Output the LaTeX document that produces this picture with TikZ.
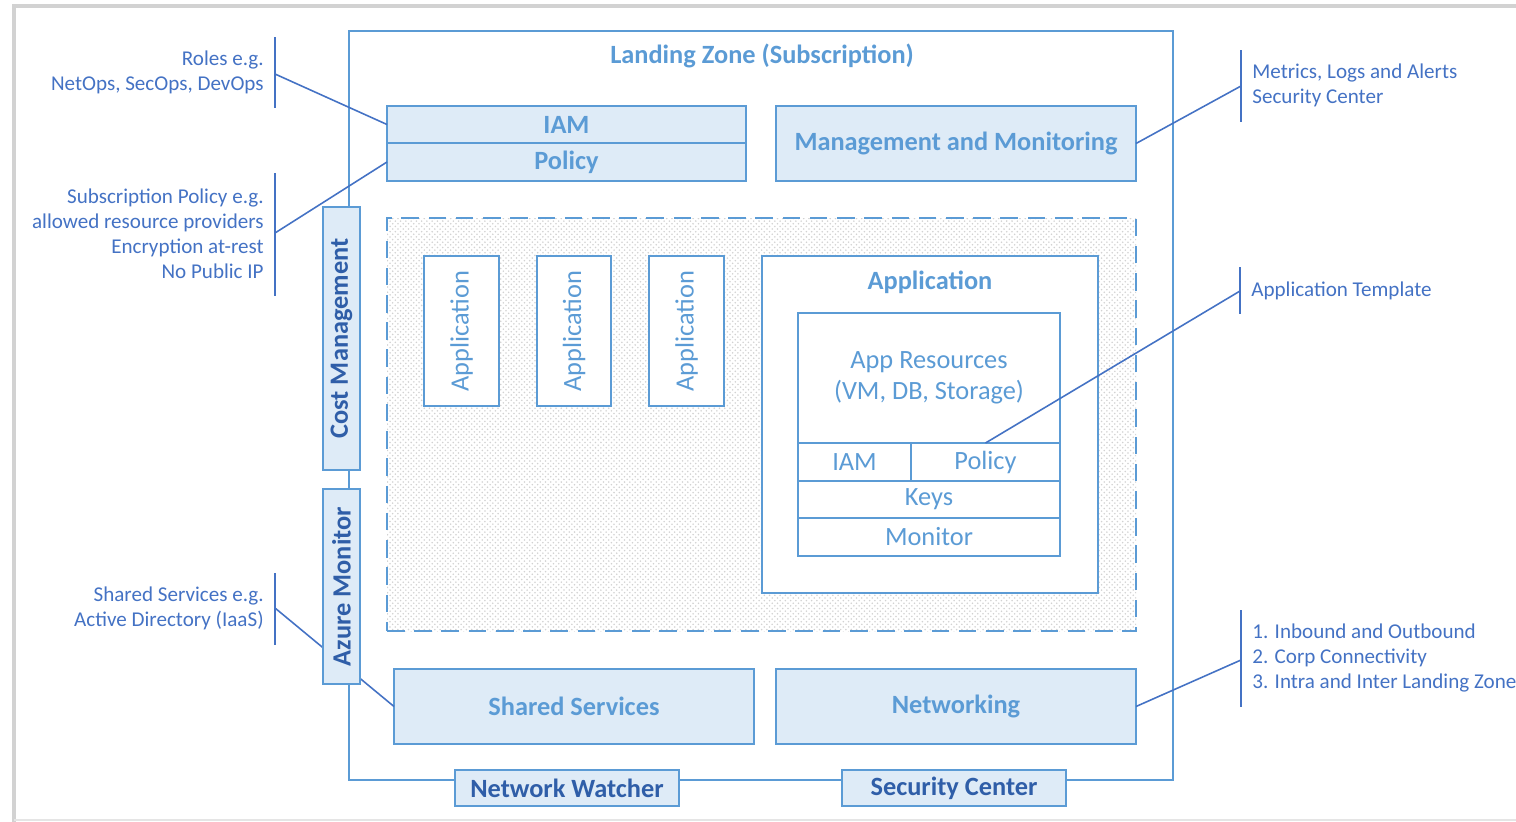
\documentclass[tikz,border=0pt]{standalone}
\usepackage{fontspec}
\setmainfont{Carlito}
\usepackage{xcolor}
\usepackage{tikz}
\usetikzlibrary{positioning,calc,patterns}

\definecolor{lzline}{RGB}{91,155,213}
\definecolor{lzfill}{RGB}{222,235,247}
\definecolor{lznote}{RGB}{68,114,196}
\definecolor{lzdark}{RGB}{47,94,168}

\begin{document}
\begin{tikzpicture}[x=0.02cm, y=-0.02cm,
    sz/.style 2 args={minimum width=#1*0.02cm, minimum height=#2*0.02cm},
    box/.style={draw=lzline, line width=1pt, inner sep=0pt, outer sep=0pt},
    bluebox/.style={box, fill=lzfill, text=lzline, font=\fontsize{15}{17}\selectfont\bfseries},
    whitebox/.style={box, fill=white, text=lzline, font=\fontsize{15}{17}\selectfont},
    sidebox/.style={bluebox, text=lzdark},
    note/.style={text=lznote, font=\fontsize{12}{14.2}\selectfont, inner sep=0pt},
    link/.style={draw=lznote, line width=0.9pt},
  ]
    \useasboundingbox (0,0) rectangle (1516,822);

    % page shadow
    \draw[gray!35, line width=2pt] (14,822) -- (14,6) -- (1516,6);
    \draw[gray!20, line width=1.5pt] (14,820) -- (1516,820);

    % Landing zone
    \node[box, sz={824}{749}] (lz) at (761,405.5) {};
    \node[text=lzline, font=\fontsize{15}{17}\selectfont\bfseries] (lztitle) at (762,56) {Landing Zone (Subscription)};

    % Top row
    \node[bluebox, sz={359}{37}] (iam) at (566.5,124.5) {IAM};
    \node[bluebox, sz={359}{38}] (policy) at (566.5,162) {Policy};
    \node[bluebox, sz={360}{75}] (mgmt) at (956,143.5) {Management and Monitoring};

    % Application zone
    \node[box, sz={749}{413}, line width=1.4pt, dash pattern=on 10pt off 5.5pt,
          pattern=crosshatch dots, pattern color=gray!35] (appzone) at (761.5,424.5) {};
    \node[whitebox, sz={150}{75}, rotate=90] (app1) at (461.5,331) {Application};
    \node[whitebox, sz={150}{74}, rotate=90] (app2) at (574,331) {Application};
    \node[whitebox, sz={150}{75}, rotate=90] (app3) at (686.5,331) {Application};

    % Application template
    \node[whitebox, sz={336}{337}] (app) at (930,424.5) {};
    \node[text=lzline, font=\fontsize{15}{17}\selectfont\bfseries] (apptitle) at (930,282) {Application};
    \node[whitebox, sz={262}{130}, align=center, font=\fontsize{15}{17.6}\selectfont] (res) at (929,378) {App Resources\\(VM, DB, Storage)};
    \node[whitebox, sz={113}{38}] (appiam) at (854.5,462) {IAM};
    \node[whitebox, sz={149}{38}] (apppolicy) at (985.5,462) {Policy};
    \node[whitebox, sz={262}{37}] (keys) at (929,499.5) {Keys};
    \node[whitebox, sz={262}{38}] (monitor) at (929,537) {Monitor};

    % Bottom row
    \node[bluebox, sz={360}{75}] (shared) at (574,706.5) {Shared Services};
    \node[bluebox, sz={360}{75}] (net) at (956,706.5) {Networking};

    % Notes left
    \draw[link] (275,37) -- (275,108);
    \coordinate (rolestip) at (275,74);
    \node[note, anchor=east, align=right] (roles) at (264,72) {Roles e.g.\\NetOps, SecOps, DevOps};
    \draw[link] (rolestip) -- (iam.west);

    \draw[link] (275,173) -- (275,296);
    \coordinate (subtip) at (275,233);
    \node[note, anchor=east, align=right] (subpol) at (264,234) {Subscription Policy e.g.\\allowed resource providers\\Encryption at-rest\\No Public IP};
    \draw[link] (subtip) -- (policy.west);

    \draw[link] (275,573) -- (275,645);
    \coordinate (sharedtip) at (275,608);
    \node[note, anchor=east, align=right] (sharednote) at (264,608) {Shared Services e.g.\\Active Directory (IaaS)};
    \draw[link] (sharedtip) -- (shared.west);

    % Notes right
    \draw[link] (1241,50) -- (1241,122);
    \coordinate (metricstip) at (1241,86);
    \node[note, anchor=west, align=left] (metrics) at (1252,85) {Metrics, Logs and Alerts\\Security Center};
    \draw[link] (mgmt.east) -- (metricstip);

    \draw[link] (1240,267) -- (1240,314);
    \coordinate (templtip) at (1240,291);
    \node[note, anchor=west] (templ) at (1251,291) {Application Template};
    \draw[link] (apppolicy.north) -- (templtip);

    \draw[link] (1241,610) -- (1241,707);
    \coordinate (nettip) at (1241,660);
    \node[note, anchor=west, align=left] (netnote) at (1252,658) {1. Inbound and Outbound\\2. Corp Connectivity\\3. Intra and Inter Landing Zone};
    \draw[link] (net.east) -- (nettip);

    % Side services
    \node[sidebox, sz={263}{37}, rotate=90] (cost) at (341.5,338.5) {Cost Management};
    \node[sidebox, sz={195}{37}, rotate=90] (azmon) at (341.5,586.5) {Azure Monitor};
    \node[sidebox, sz={224}{36}] (watcher) at (567,788) {Network Watcher};
    \node[sidebox, sz={224}{36}] (seccenter) at (954,788) {Security Center};
\end{tikzpicture}
\end{document}
